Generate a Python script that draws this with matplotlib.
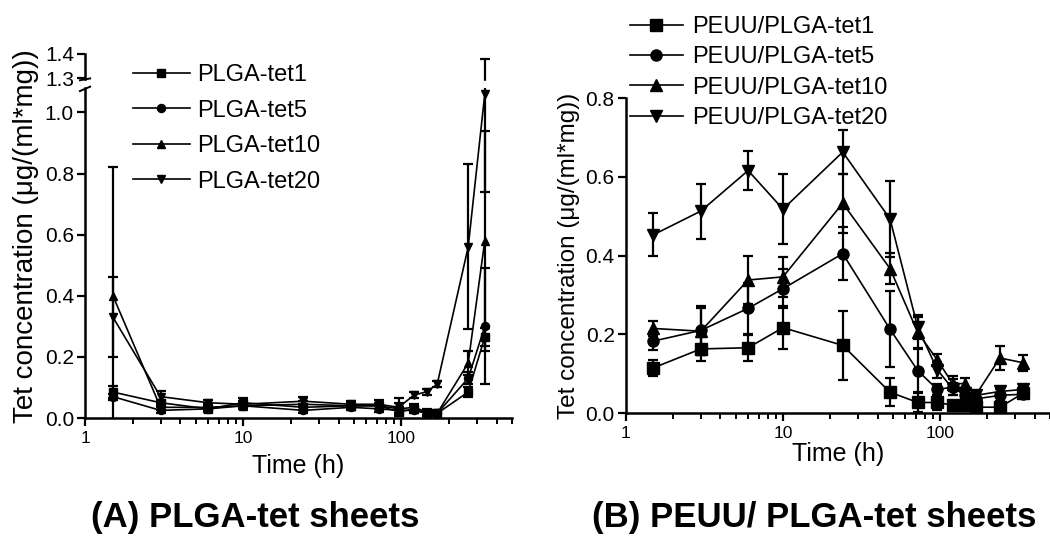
import numpy as np
import matplotlib
matplotlib.use("Agg")
import matplotlib.pyplot as plt
from matplotlib.lines import Line2D
from matplotlib.ticker import LogLocator, NullFormatter, FuncFormatter, FixedLocator

plt.rcParams['font.family'] = ['Liberation Sans', 'DejaVu Sans']

# (A) PLGA-tet sheets
time_a = [1.5, 3, 6, 10, 24, 48, 72, 96, 120, 144, 168, 264, 336]
a_tet1 = [0.085, 0.05, 0.03, 0.05, 0.035, 0.04, 0.04, 0.02, 0.03, 0.015, 0.015, 0.085, 0.265]
a_tet1_err = [0.02, 0.01, 0.01, 0.015, 0.01, 0.01, 0.01, 0.01, 0.01, 0.01, 0.01, 0.015, 0.03]
a_tet5 = [0.07, 0.025, 0.03, 0.04, 0.025, 0.035, 0.03, 0.025, 0.025, 0.015, 0.015, 0.13, 0.30]
a_tet5_err = [0.01, 0.01, 0.01, 0.01, 0.01, 0.01, 0.01, 0.01, 0.01, 0.005, 0.005, 0.02, 0.19]
a_tet10 = [0.40, 0.035, 0.035, 0.04, 0.045, 0.04, 0.04, 0.03, 0.035, 0.02, 0.015, 0.18, 0.58]
a_tet10_err = [0.42, 0.01, 0.01, 0.01, 0.01, 0.01, 0.01, 0.02, 0.01, 0.01, 0.01, 0.04, 0.36]
a_tet20 = [0.33, 0.07, 0.05, 0.045, 0.055, 0.045, 0.045, 0.035, 0.075, 0.086, 0.11, 0.56, 1.06]
a_tet20_err = [0.13, 0.02, 0.01, 0.01, 0.015, 0.01, 0.015, 0.03, 0.01, 0.01, 0.01, 0.27, 0.32]
labels_a = ['PLGA-tet1', 'PLGA-tet5', 'PLGA-tet10', 'PLGA-tet20']

# (B) PEUU/PLGA-tet sheets
time_b = [1.5, 3, 6, 10, 24, 48, 72, 96, 120, 144, 168, 240, 336]
b_tet1 = [0.115, 0.163, 0.166, 0.217, 0.172, 0.053, 0.027, 0.027, 0.02, 0.02, 0.015, 0.015, 0.05]
b_tet1_err = [0.021, 0.03, 0.033, 0.055, 0.088, 0.036, 0.025, 0.02, 0.01, 0.01, 0.01, 0.01, 0.01]
b_tet5 = [0.183, 0.21, 0.266, 0.316, 0.405, 0.213, 0.108, 0.06, 0.066, 0.045, 0.036, 0.045, 0.048]
b_tet5_err = [0.023, 0.062, 0.065, 0.05, 0.068, 0.097, 0.055, 0.015, 0.02, 0.02, 0.015, 0.015, 0.01]
b_tet10 = [0.215, 0.208, 0.338, 0.346, 0.533, 0.367, 0.205, 0.135, 0.075, 0.075, 0.045, 0.14, 0.128]
b_tet10_err = [0.02, 0.06, 0.06, 0.05, 0.075, 0.04, 0.04, 0.015, 0.02, 0.015, 0.01, 0.03, 0.02]
b_tet20 = [0.453, 0.513, 0.616, 0.518, 0.663, 0.493, 0.218, 0.11, 0.062, 0.05, 0.045, 0.055, 0.06]
b_tet20_err = [0.054, 0.07, 0.05, 0.088, 0.057, 0.097, 0.03, 0.02, 0.015, 0.01, 0.01, 0.01, 0.01]
labels_b = ['PEUU/PLGA-tet1', 'PEUU/PLGA-tet5', 'PEUU/PLGA-tet10', 'PEUU/PLGA-tet20']

markers = ['s', 'o', '^', 'v']
ylabel = 'Tet concentration (\u03bcg/(ml*mg))'

# broken y axis for panel A: 1.08 .. 1.3 squeezed
BRK_LO, BRK_HI = 1.08, 1.3
K_GAP, K_TOP = 0.149, 0.787


def fwd(y):
    y = np.asarray(y, dtype=float)
    mid = BRK_LO + (y - BRK_LO) * K_GAP
    top = BRK_LO + (BRK_HI - BRK_LO) * K_GAP + (y - BRK_HI) * K_TOP
    return np.where(y <= BRK_LO, y, np.where(y <= BRK_HI, mid, top))


def inv(v):
    v = np.asarray(v, dtype=float)
    v1 = BRK_LO + (BRK_HI - BRK_LO) * K_GAP
    mid = BRK_LO + (v - BRK_LO) / K_GAP
    top = BRK_HI + (v - v1) / K_TOP
    return np.where(v <= BRK_LO, v, np.where(v <= v1, mid, top))


def style_axes(ax, xpad):
    ax.set_xscale('log')
    ax.set_xlim(1, 500)
    ax.xaxis.set_major_locator(LogLocator(base=10))
    ax.xaxis.set_minor_locator(LogLocator(base=10, subs=np.arange(2, 10)))
    ax.xaxis.set_minor_formatter(NullFormatter())
    ax.xaxis.set_major_formatter(FuncFormatter(lambda v, p: '%g' % v))
    ax.spines['top'].set_visible(False)
    ax.spines['right'].set_visible(False)
    for s in ['left', 'bottom']:
        ax.spines[s].set_linewidth(1.8)
    ax.tick_params(which='major', direction='out', length=6, width=1.6, pad=2)
    ax.tick_params(axis='x', which='major', labelsize=12.5, pad=3)
    ax.tick_params(axis='y', which='major', labelsize=15)
    ax.tick_params(which='minor', direction='out', length=4, width=1.4)
    ax.tick_params(axis='y', which='minor', left=False)
    ax.set_xlabel('Time (h)', fontsize=18, labelpad=xpad)


def legend_handles(labels, ms):
    return [Line2D([], [], color='black', marker=m, markersize=ms, linewidth=1.2, label=lab)
            for m, lab in zip(markers, labels)]


fig = plt.figure(figsize=(10.5, 5.45), dpi=100)

# ---- panel A
axA = fig.add_axes([0.081, 0.233, 0.4067, 0.668])
axA.set_yscale('function', functions=(fwd, inv))
series_a = [(a_tet1, a_tet1_err), (a_tet5, a_tet5_err), (a_tet10, a_tet10_err), (a_tet20, a_tet20_err)]
for (vals, errs), m, lab in zip(series_a, markers, labels_a):
    axA.errorbar(time_a, vals, yerr=errs, color='black', marker=m, markersize=5.8,
                 linewidth=1.2, elinewidth=1.6, capsize=3.5, capthick=1.6, label=lab)
style_axes(axA, 6)
axA.set_ylim(0, 1.4)
axA.yaxis.set_major_locator(FixedLocator([0, 0.2, 0.4, 0.6, 0.8, 1.0, 1.3, 1.4]))
axA.yaxis.set_major_formatter(FuncFormatter(lambda v, p: '%.1f' % v))
axA.spines['left'].set_bounds(0, 1.08)
ytr = axA.get_yaxis_transform()
axA.plot([0, 0], [1.28, 1.4], color='black', lw=1.8, transform=ytr, clip_on=False)
# break marks
for yb in (1.09, 1.27):
    axA.plot([-0.012, 0.012], [yb - 0.02, yb + 0.02], color='black', lw=1.4,
             transform=ytr, clip_on=False)
# dashed look of the error bar crossing the break
axA.plot([time_a[-1], time_a[-1]], [BRK_LO + 0.01, BRK_HI], color='white', lw=2.6,
         linestyle=(0, (2, 2)), zorder=5)
axA.set_ylabel(ylabel, fontsize=20, labelpad=4)
axA.legend(handles=legend_handles(labels_a, 5.8), loc='upper left', bbox_to_anchor=(0.112, 0.972),
           frameon=False, fontsize=17, handlelength=2.4, handletextpad=0.3, labelspacing=0.57,
           borderpad=0, borderaxespad=0)

# ---- panel B
axB = fig.add_axes([0.596, 0.242, 0.404, 0.578])
series_b = [(b_tet1, b_tet1_err), (b_tet5, b_tet5_err), (b_tet10, b_tet10_err), (b_tet20, b_tet20_err)]
for (vals, errs), m, lab in zip(series_b, markers, labels_b):
    axB.errorbar(time_b, vals, yerr=errs, color='black', marker=m, markersize=8,
                 linewidth=1.2, elinewidth=1.6, capsize=3.5, capthick=1.6, label=lab)
style_axes(axB, 1)
axB.set_ylim(0, 0.8)
axB.set_yticks([0, 0.2, 0.4, 0.6, 0.8])
axB.yaxis.set_major_formatter(FuncFormatter(lambda v, p: '%.1f' % v))
axB.set_ylabel(ylabel, fontsize=17.5, labelpad=4)
axB.legend(handles=legend_handles(labels_b, 8), loc='upper left', bbox_to_anchor=(0.009, 1.26),
           frameon=False, fontsize=17, handlelength=2.25, handletextpad=0.4, labelspacing=0.35,
           borderpad=0, borderaxespad=0)

fig.text(0.243, 0.05, '(A) PLGA-tet sheets', fontsize=25, fontweight='bold', ha='center', va='center')
fig.text(0.775, 0.05, '(B) PEUU/ PLGA-tet sheets', fontsize=25, fontweight='bold', ha='center', va='center')

fig.savefig('out.png', dpi=100)
